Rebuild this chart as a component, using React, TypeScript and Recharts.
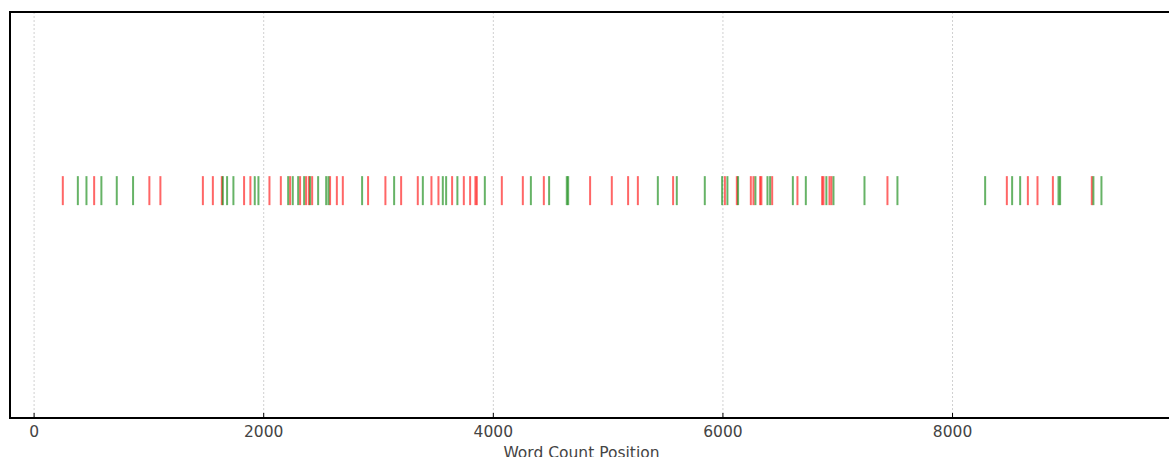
import { ScatterChart, Scatter, XAxis, YAxis, CartesianGrid, ReferenceArea } from 'recharts'

// word positions of the two kinds of hits
const redPositions = [
  250, 523, 1004, 1100, 1470, 1557, 1635, 1829, 1884, 2050, 2149, 2230, 2317, 2369, 2393, 2422,
  2578, 2637, 2689, 2909, 3060, 3197, 3342, 3461, 3522, 3641, 3743, 3798, 3844, 3856, 4074, 4257,
  4440, 4843, 5032, 5174, 5259, 5566, 6017, 6121, 6243, 6266, 6324, 6335, 6429, 6649, 6864, 6876,
  6928, 6945, 7433, 8473, 8656, 8740, 8874, 9213,
]
const greenPositions = [
  381, 456, 586, 720, 862, 1644, 1681, 1736, 1922, 1954, 2213, 2253, 2300, 2352, 2404, 2474, 2544,
  2564, 2857, 3136, 3386, 3560, 3589, 3687, 3926, 4327, 4486, 4640, 4652, 5433, 5598, 5842, 5993,
  6039, 6132, 6283, 6388, 6411, 6609, 6722, 6901, 6963, 7233, 7520, 8284, 8519, 8589, 8923, 8937,
  9227, 9297,
]
const xTicks = [0, 2000, 4000, 6000, 8000]
const rugLevel = 0.56

const redData = redPositions.map(x => ({ x, y: rugLevel }))
const greenData = greenPositions.map(x => ({ x, y: rugLevel }))

const font = '"DejaVu Sans", sans-serif'

const rugShape = (color: string) => (props: any) => {
  const { cx, cy } = props
  return (
    <line
      x1={cx}
      x2={cx}
      y1={cy - 14.5}
      y2={cy + 14.5}
      stroke={color}
      strokeOpacity={0.6}
      strokeWidth={2}
    />
  )
}

const Tick = (props: any) => {
  const { x, y, payload } = props
  return (
    <g>
      <line x1={x} x2={x} y1={y} y2={y - 5} stroke="#000" strokeWidth={1} />
      <text
        x={x}
        y={y + 19}
        textAnchor="middle"
        fill="#444"
        style={{ fontFamily: font, fontSize: '15.5px' }}
      >
        {payload.value}
      </text>
    </g>
  )
}

export default function App() {
  return (
    <div style={{ position: 'absolute', left: 0, top: 0, width: 1169, height: 457, overflow: 'hidden', background: '#fff' }}>
      <ScatterChart width={1200} height={457} margin={{ top: 12, right: 19, left: 10, bottom: 0 }}>
        <CartesianGrid horizontal={false} stroke="#d0d0d0" strokeDasharray="2 2" />
        <XAxis
          type="number"
          dataKey="x"
          domain={[-210, 9990]}
          ticks={xTicks}
          height={39}
          axisLine={false}
          tickLine={false}
          tickSize={0}
          tickMargin={0}
          tick={<Tick />}
          label={{
            value: 'Word Count Position',
            position: 'insideBottom',
            dx: -14,
            dy: 6,
            style: { fontFamily: font, fontSize: '15.5px', fill: '#444' },
          }}
        />
        <YAxis type="number" dataKey="y" domain={[0, 1]} hide />
        <ReferenceArea x1={-210} x2={9990} y1={0} y2={1} fill="none" stroke="#000" strokeWidth={2} ifOverflow="visible" />
        <Scatter data={redData} shape={rugShape('red')} isAnimationActive={false} />
        <Scatter data={greenData} shape={rugShape('green')} isAnimationActive={false} />
      </ScatterChart>
    </div>
  )
}
